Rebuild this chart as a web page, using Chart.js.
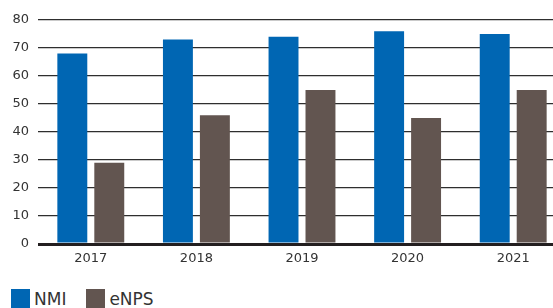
<!DOCTYPE html>
<html lang="en">
<head>
  <meta charset="UTF-8">
  <title>NMI and eNPS 2017-2021</title>
  <script src="https://cdn.jsdelivr.net/npm/chart.js"></script>
  <style>
    html, body { margin: 0; padding: 0; overflow: hidden; background: #fff; }
    .wrap { position: relative; width: 566px; height: 308px; }
    #chart { position: absolute; left: 0; top: 0; }
    .legend { position: absolute; left: 11px; top: 289px; display: flex; font-family: "DejaVu Sans", sans-serif; font-size: 17px; color: #333; }
    .legend span { display: flex; align-items: flex-start; margin-right: 20px; }
    .legend i { display: inline-block; width: 19px; height: 22px; margin-right: 4px; }
    .legend b { font-weight: normal; line-height: 20px; margin-top: 0px; }
  </style>
</head>
<body>
  <div class="wrap">
    <canvas id="chart" width="566" height="275"></canvas>
    <div class="legend" id="legend"></div>
  </div>

  <script>
    const years = ['2017', '2018', '2019', '2020', '2021'];
    const nmi = [68, 73, 74, 76, 75];
    const enps = [29, 46, 55, 45, 55];
    const yTicks = [0, 10, 20, 30, 40, 50, 60, 70, 80];

    const series = [
      { label: 'NMI', data: nmi, color: '#0066b3' },
      { label: 'eNPS', data: enps, color: '#625550' }
    ];

    const ctx = document.getElementById('chart');
    const chart = new Chart(ctx, {
      type: 'bar',
      data: {
        labels: years,
        datasets: series.map(s => ({
          label: s.label,
          data: s.data,
          backgroundColor: s.color,
          borderWidth: 0,
          categoryPercentage: 0.70,
          barPercentage: 0.81
        }))
      },
      options: {
        responsive: false,
        animation: false,
        layout: { padding: { top: 20, left: 0, right: 0, bottom: 0 } },
        plugins: {
          legend: { display: false },
          tooltip: { enabled: false }
        },
        scales: {
          x: {
            grid: { display: false, drawTicks: false },
            border: { display: false },
            ticks: { color: '#333', padding: 7, font: { family: 'DejaVu Sans', size: 13 } },
            afterFit(scale) { scale.height = 31; }
          },
          y: {
            min: 0,
            max: 80,
            afterBuildTicks(scale) { scale.ticks = yTicks.map(v => ({ value: v })); },
            border: { display: false },
            grid: {
              drawTicks: false,
              color: c => c.tick.value === 0 ? '#231f20' : '#2e2e2e',
              lineWidth: c => c.tick.value === 0 ? 3 : 1.3
            },
            ticks: { color: '#333', padding: 9, font: { family: 'DejaVu Sans', size: 13 } },
            afterFit(scale) { scale.width = 38; }
          }
        }
      }
    });

    const legend = document.getElementById('legend');
    series.forEach(s => {
      const item = document.createElement('span');
      item.innerHTML = '<i style="background:' + s.color + '"></i><b>' + s.label + '</b>';
      legend.appendChild(item);
    });
  </script>
</body>
</html>
